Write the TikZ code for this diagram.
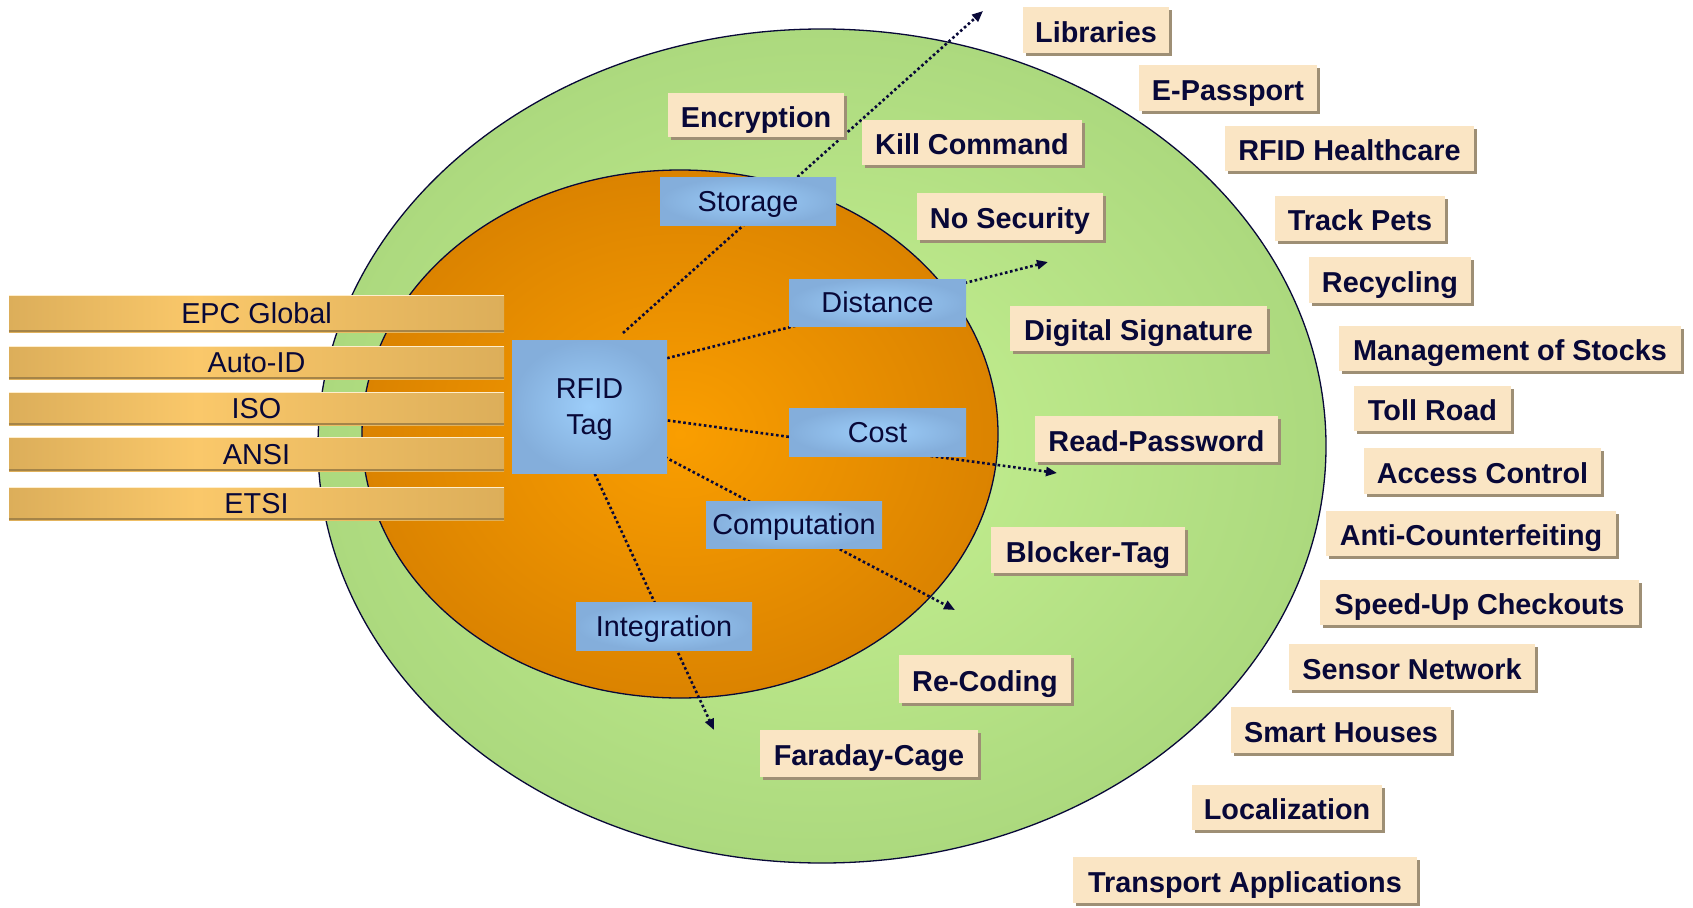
\documentclass[tikz,border=0pt]{standalone}
\usepackage{fontspec}
\setmainfont{Liberation Sans}
\usetikzlibrary{arrows.meta,shadows}

\definecolor{ink}{RGB}{8,8,56}
\definecolor{ringin}{RGB}{198,242,146}
\definecolor{ringout}{RGB}{172,217,126}
\definecolor{corein}{RGB}{250,158,0}
\definecolor{coreout}{RGB}{219,131,0}
\definecolor{tagin}{RGB}{157,206,250}
\definecolor{tagout}{RGB}{132,174,219}
\definecolor{barD}{RGB}{220,174,90}
\definecolor{barL}{RGB}{250,200,106}
\definecolor{barEdge}{RGB}{165,132,72}
\definecolor{barTop}{RGB}{255,238,204}
\definecolor{paper}{RGB}{250,229,196}
\definecolor{paperShade}{RGB}{158,143,117}

\pgfdeclarehorizontalshading{goldbar}{100bp}{color(0bp)=(barD); color(25bp)=(barD); color(44bp)=(barL); color(75bp)=(barD); color(100bp)=(barD)}

\newcommand\labelfont{\fontsize{28.8}{36}\selectfont}

\tikzset{
  ring/.style={draw=ink, line width=1.3pt},
  capsline/.style={text height=20.6pt, text depth=0pt},
  feature/.style={inner sep=0pt, shade, shading=radial, inner color=tagin, outer color=tagout,
    text=ink, font=\labelfont},
  standard/.style={inner sep=0pt, shade, shading=goldbar, text=ink, font=\labelfont,
    capsline, minimum width=495pt},
  appbox/.style={inner sep=0pt, fill=paper, text=ink, font=\labelfont\bfseries,
    text height=24pt, text depth=0pt,
    general shadow={fill=paperShade, shadow xshift=3pt, shadow yshift=-3pt}},
  link/.style={draw=ink, line width=2.6pt, dash pattern=on 2.6pt off 2.6pt,
    -{Triangle[length=11pt,width=9pt]}},
}

% application label: name, x1, y1, x2, y2 (outer extent incl. shadow), text
\newcommand\appbox[6]{%
  \node[appbox, minimum width={#4pt-#2pt-3pt}, minimum height={#5pt-#3pt-3pt}]
    (#1) at ({(#2+#4-3)/2},{(#3+#5-3)/2}) {#6};}
% tag property box: name, x1, y1, x2, y2, text
\newcommand\featbox[6]{%
  \node[feature, capsline, minimum width={#4pt-#2pt}, minimum height={#5pt-#3pt}]
    (#1) at ({(#2+#4)/2},{(#3+#5)/2}) {#6};}
% standards bar: name, y1, y2, text
\newcommand\stdbar[4]{%
  \node[standard, minimum height={#3pt-#2pt}] (#1) at (256.5,{(#2+#3)/2}) {#4};
  \draw[barTop, line width=1.5pt] ([yshift=-0.75pt]#1.north west) -- ([yshift=-0.75pt]#1.north east);
  \draw[barEdge, line width=1.8pt] ([yshift=0.9pt]#1.south west) -- ([yshift=0.9pt]#1.south east);}

\begin{document}
\begin{tikzpicture}[x=1pt, y=-1pt]
\useasboundingbox (0,0) rectangle (1693,907);
\fill[white] (0,0) rectangle (1693,907);

% outer ring (applications) and inner core (tag)
\path[ring, shade, inner color=ringin, outer color=ringout]
  (822,446) ellipse [x radius=504, y radius=417];
\path[ring, shade, inner color=corein, outer color=coreout]
  (680,434) ellipse [x radius=318, y radius=264];

% dotted links from the tag outwards
\coordinate (sStor) at (623,333);  \coordinate (tStor) at (983,11);
\coordinate (sDist) at (652,362);  \coordinate (tDist) at (1048,262);
\coordinate (sCost) at (642,417);  \coordinate (tCost) at (1057,473);
\coordinate (sComp) at (642,445);  \coordinate (tComp) at (955,610);
\coordinate (sInt)  at (586,455);  \coordinate (tInt)  at (714,730);
\draw[link] (sStor) -- (tStor);
\draw[link] (sDist) -- (tDist);
\draw[link] (sCost) -- (tCost);
\draw[link] (sComp) -- (tComp);
\draw[link] (sInt) -- (tInt);

% tag and its properties
\node[feature, align=center, minimum width=155pt, minimum height=133pt]
  (tag) at (589.5,406.5) {};
\node[text=ink, font=\labelfont, align=center, inner sep=0pt] (tagtext) at (589.5,410) {RFID\\Tag};
\featbox{storage}{660}{177}{836}{225}{Storage}
\featbox{distance}{789}{279}{966}{326}{Distance}
\featbox{cost}{789}{408}{966}{456}{Cost}
\featbox{computation}{706}{501}{882}{548}{Computation}
\featbox{integration}{576}{602}{752}{650}{Integration}

% standards
\stdbar{epc}{295}{332}{EPC Global}
\stdbar{autoid}{346}{379}{Auto-ID}
\stdbar{iso}{392}{425}{ISO}
\stdbar{ansi}{437}{471}{ANSI}
\stdbar{etsi}{487}{520}{ETSI}

% security measures
\appbox{encryption}{668}{93}{847}{140}{Encryption}
\appbox{kill}{862}{120}{1085}{168}{Kill Command}
\appbox{nosec}{917}{193}{1106}{243}{No Security}
\appbox{digsig}{1010}{306}{1270}{354}{Digital Signature}
\appbox{readpw}{1035}{416}{1281}{465}{Read-Password}
\appbox{blocker}{991}{527}{1188}{576}{Blocker-Tag}
\appbox{recoding}{899}{655}{1074}{706}{Re-Coding}
\appbox{faraday}{760}{730}{981}{780}{Faraday-Cage}

% applications
\appbox{libraries}{1023}{7}{1172}{56}{Libraries}
\appbox{passport}{1139}{65}{1320}{114}{E-Passport}
\appbox{health}{1225}{126}{1477}{174}{RFID Healthcare}
\appbox{pets}{1275}{196}{1448}{244}{Track Pets}
\appbox{recycling}{1309}{257}{1474}{306}{Recycling}
\appbox{stocks}{1339}{326}{1684}{374}{Management of Stocks}
\appbox{toll}{1354}{386}{1514}{434}{Toll Road}
\appbox{access}{1364}{448}{1604}{497}{Access Control}
\appbox{anticf}{1326}{511}{1619}{559}{Anti-Counterfeiting}
\appbox{checkout}{1320}{580}{1642}{628}{Speed-Up Checkouts}
\appbox{sensor}{1289}{644}{1538}{693}{Sensor Network}
\appbox{houses}{1231}{707}{1454}{756}{Smart Houses}
\appbox{local}{1192}{785}{1385}{833}{Localization}
\appbox{transport}{1073}{857}{1420}{906}{Transport Applications}
\end{tikzpicture}
\end{document}
